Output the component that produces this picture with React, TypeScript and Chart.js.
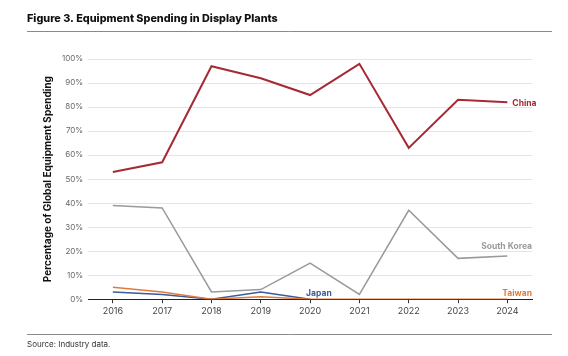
import React, { useEffect, useRef } from "react";
import { Chart, registerables } from "chart.js";
Chart.register(...registerables);

const years = ["2016", "2017", "2018", "2019", "2020", "2021", "2022", "2023", "2024"];
const china = [53, 57, 97, 92, 85, 98, 63, 83, 82];
const southKorea = [39, 38, 3, 4, 15, 2, 37, 17, 18];
const japan = [3, 2, 0, 3, 0, null, null, null, null];
const taiwan = [5, 3, 0, 1, 0, 0, 0, 0, 0];

const title = "Figure 3. Equipment Spending in Display Plants";
const source = "Source: Industry data.";
const yTitle = "Percentage of Global Equipment Spending";

const RED = "#a52a34";
const GRAY = "#9a9a9a";
const BLUE = "#3d5a9c";
const ORANGE = "#e07b39";
const FONT = "Inter, 'Open Sans', sans-serif";

const decor = {
  id: "decor",
  afterDatasetsDraw(chart: any) {
    const ctx = chart.ctx;
    const x = chart.scales.x;
    const y = chart.scales.y;
    ctx.save();
    ctx.textBaseline = "middle";
    ctx.font = `bold 8.5px ${FONT}`;
    ctx.fillStyle = RED;
    ctx.textAlign = "left";
    ctx.fillText("China", x.getPixelForValue(8) + 5, y.getPixelForValue(82) + 1);
    ctx.fillStyle = GRAY;
    ctx.textAlign = "right";
    ctx.fillText("South Korea", chart.chartArea.right, y.getPixelForValue(22));
    ctx.fillStyle = ORANGE;
    ctx.fillText("Taiwan", chart.chartArea.right, y.getPixelForValue(2.5));
    ctx.fillStyle = BLUE;
    ctx.textAlign = "left";
    ctx.fillText("Japan", x.getPixelForValue(4) - 4, y.getPixelForValue(2.5));
    ctx.restore();
  },
  afterDraw(chart: any) {
    const ctx = chart.ctx;
    ctx.save();
    ctx.fillStyle = "#111";
    ctx.font = `800 10.8px ${FONT}`;
    ctx.textAlign = "left";
    ctx.textBaseline = "middle";
    ctx.fillText(title, 27, 19);
    ctx.strokeStyle = "#8a8a8a";
    ctx.lineWidth = 1;
    ctx.beginPath();
    ctx.moveTo(27, 31.5);
    ctx.lineTo(552, 31.5);
    ctx.moveTo(27, 334.5);
    ctx.lineTo(552, 334.5);
    ctx.stroke();
    ctx.fillStyle = "#333";
    ctx.font = `8px ${FONT}`;
    ctx.fillText(source, 27, 345);
    ctx.restore();
  },
};

export default function App() {
  const ref = useRef<HTMLCanvasElement>(null);
  useEffect(() => {
    document.body.style.margin = "0";
    const mk = (label: string, data: any[], color: string) => ({
      label,
      data,
      borderColor: color,
      backgroundColor: color,
      borderWidth: label === "China" ? 2 : 1.5,
      pointRadius: 0,
      tension: 0,
      spanGaps: false,
    });
    const chart = new Chart(ref.current!, {
      type: "line",
      data: {
        labels: years,
        datasets: [
          mk("Taiwan", taiwan, ORANGE),
          mk("Japan", japan, BLUE),
          mk("South Korea", southKorea, GRAY),
          mk("China", china, RED),
        ],
      },
      options: {
        animation: false,
        responsive: false,
        layout: { padding: { top: 59, left: 42, right: 36, bottom: 36 } },
        plugins: { legend: { display: false }, tooltip: { enabled: false } },
        scales: {
          x: {
            offset: true,
            grid: { drawOnChartArea: false, drawTicks: true, tickLength: 4, color: "#333" },
            border: { display: true, color: "#222", width: 1 },
            ticks: { color: "#444", font: { size: 9, family: FONT }, padding: 3 },
          },
          y: {
            min: 0,
            max: 100,
            grid: { color: "#e5e5e5", drawTicks: false },
            border: { display: false },
            ticks: {
              stepSize: 10,
              padding: 5,
              color: "#666",
              font: { size: 8, family: FONT },
              callback: (v: any) => v + "%",
            },
            title: {
              display: true,
              text: yTitle,
              color: "#111",
              font: { size: 10, weight: "bold", family: FONT },
              padding: { top: 0, bottom: 3 },
            },
          },
        },
      },
      plugins: [decor],
    });
    return () => chart.destroy();
  }, []);
  return <canvas ref={ref} width={568} height={356} style={{ display: "block" }} />;
}
